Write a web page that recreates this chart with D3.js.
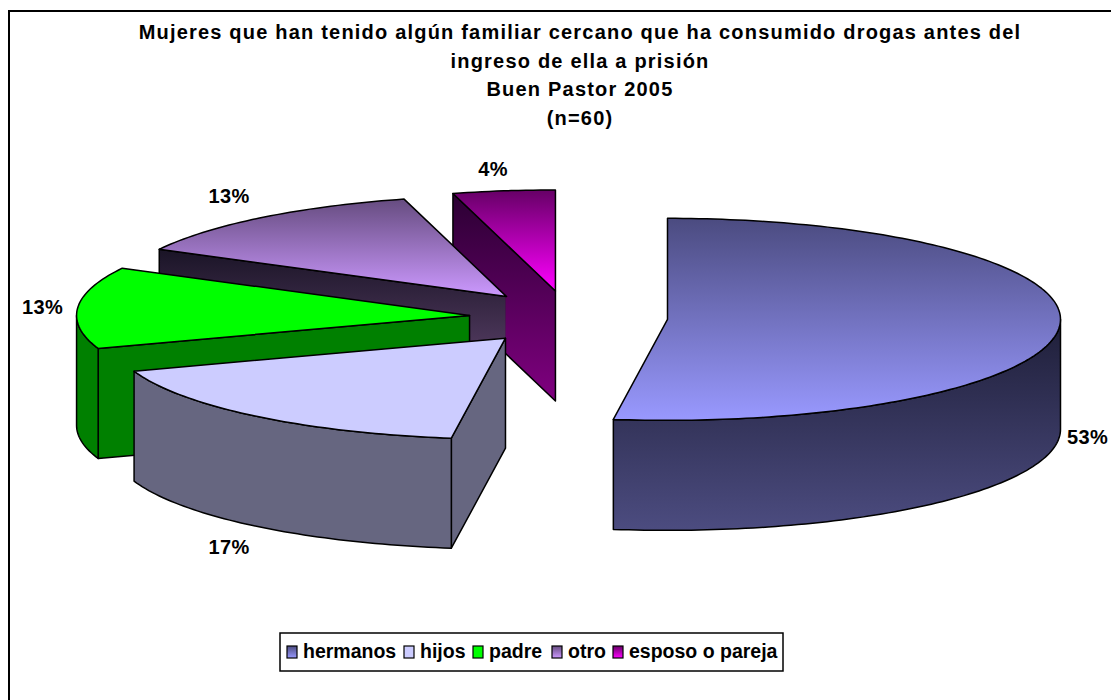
<!DOCTYPE html>
<html lang="es">

<head>
  <meta charset="UTF-8">
  <title>Buen Pastor 2005</title>
  <style>
    html, body { margin: 0; padding: 0; background: #fff; overflow: hidden; }
    svg { display: block; }
    text { font-family: "Liberation Sans", Arial, sans-serif; font-weight: bold; fill: #000; }
  </style>
</head>

<body>
  <div id="chart"></div>
  <script src="https://d3js.org/d3.v7.min.js"></script>
  <script>
    const titleLines = [
      "Mujeres que han tenido algún familiar cercano que ha consumido drogas antes del",
      "ingreso de ella a prisión",
      "Buen Pastor 2005",
      "(n=60)"
    ]
    const categories = ["hermanos", "hijos", "padre", "otro", "esposo o pareja"]
    // shares as drawn in the picture (the printed labels are rounded)
    const shares = [52.2, 17.5, 13.05, 13.05, 4.2]
    const shareLabels = ["53%", "17%", "13%", "13%", "4%"]
    const topDark = ["#4b4b80", "#ccccff", "#00ff00", "#664c80", "#660066"]
    const topLight = ["#9999ff", "#ccccff", "#00ff00", "#cc99ff", "#ff00ff"]
    const sideDark = ["#1e1e38", "#666680", "#008000", "#1a1426", "#2b0033"]
    const sideLight = ["#4c4c80", "#666680", "#008000", "#6d4d7c", "#800080"]
    const labelPos = [[1067, 444], [229, 554], [42.5, 314], [229, 203], [493, 176]]

    const W = 1111, H = 700
    const cx = 568.5, cy = 317.5, rx = 393, ry = 101, depth = 110
    const explodeX = 0.2525, explodeY = 0.265

    const svg = d3.select('#chart').append('svg')
      .attr('width', W)
      .attr('height', H)

    const defs = svg.append('defs')

    // frame runs off the right and bottom of the picture
    svg.append('rect')
      .attr('x', 9).attr('y', 11)
      .attr('width', W + 20).attr('height', H + 20)
      .attr('fill', '#fff')
      .attr('stroke', '#000')
      .attr('stroke-width', 2)

    svg.append('g').selectAll('text')
      .data(titleLines)
      .enter()
      .append('text')
      .attr('x', 580)
      .attr('y', (d, i) => 39 + i * 28.6)
      .attr('text-anchor', 'middle')
      .style('font-size', '20px')
      .style('letter-spacing', '1.2px')
      .text(d => d)

    // unit circle -> screen, the pie is flattened by the two radii
    const xScale = d3.scaleLinear().domain([-1, 1]).range([-rx, rx])
    const yScale = d3.scaleLinear().domain([-1, 1]).range([-ry, ry])

    const arcs = d3.pie().sort(null).startAngle(0).endAngle(2 * Math.PI)(shares)
    const line = d3.line()

    arcs.forEach(a => {
      const mid = (a.startAngle + a.endAngle) / 2
      a.ox = cx + xScale(Math.sin(mid) * explodeX)
      a.oy = cy + yScale(-Math.cos(mid) * explodeY)
    })

    function rim(a, from, to) {
      const n = Math.max(2, Math.ceil((to - from) * 50))
      return d3.range(n + 1).map(i => {
        const t = from + (to - from) * i / n
        return [a.ox + xScale(Math.sin(t)), a.oy + yScale(-Math.cos(t))]
      })
    }

    function gradient(id, c0, c1, y0, y1) {
      const g = defs.append('linearGradient')
        .attr('id', id)
        .attr('gradientUnits', 'userSpaceOnUse')
        .attr('x1', 0).attr('x2', 0)
        .attr('y1', y0).attr('y2', y1)
      g.append('stop').attr('offset', 0).attr('stop-color', c0)
      g.append('stop').attr('offset', 1).attr('stop-color', c1)
      return `url(#${id})`
    }

    // back walls must not stick out past the front slice
    defs.append('clipPath').attr('id', 'behindHijos')
      .append('rect')
      .attr('x', 0).attr('y', 0)
      .attr('width', arcs[1].ox).attr('height', H)

    // back slices first, the big one does not touch the others
    const order = [4, 3, 2, 1, 0]
    const pieG = svg.append('g')
      .attr('stroke', '#000')
      .attr('stroke-width', 1.5)
      .attr('stroke-linejoin', 'round')

    order.forEach(i => {
      const a = arcs[i]
      const edge = rim(a, a.startAngle, a.endAngle)
      const apex = [a.ox, a.oy]
      const ys = edge.map(p => p[1]).concat(a.oy)
      const y0 = d3.min(ys), y1 = d3.max(ys)

      // wall along the starting cut
      if (Math.sin(a.startAngle) < 0) {
        const p = edge[0]
        const wall = pieG.append('path')
          .attr('d', line([apex, p, [p[0], p[1] + depth], [apex[0], apex[1] + depth]]) + 'Z')
          .attr('fill', gradient('cut' + i, sideDark[i], sideLight[i],
            Math.min(apex[1], p[1]), Math.max(apex[1], p[1]) + depth))
        if (i === 3) wall.attr('clip-path', 'url(#behindHijos)')
      }

      // outer wall, only where the rim faces the viewer
      const from = Math.max(a.startAngle, Math.PI / 2)
      const to = Math.min(a.endAngle, 3 * Math.PI / 2)
      if (to > from) {
        const r = rim(a, from, to)
        const low = r.map(p => [p[0], p[1] + depth]).reverse()
        const all = r.concat(low).map(p => p[1])
        pieG.append('path')
          .attr('d', line(r.concat(low)) + 'Z')
          .attr('fill', gradient('side' + i, sideDark[i], sideLight[i], d3.min(all), d3.max(all)))
      }

      pieG.append('path')
        .attr('d', line([apex].concat(edge)) + 'Z')
        .attr('fill', gradient('top' + i, topDark[i], topLight[i], y0, y1))
    })

    svg.append('g').selectAll('text')
      .data(shareLabels)
      .enter()
      .append('text')
      .attr('x', (d, i) => labelPos[i][0])
      .attr('y', (d, i) => labelPos[i][1])
      .attr('text-anchor', (d, i) => i === 0 ? 'start' : 'middle')
      .style('font-size', '20px')
      .style('letter-spacing', '0.4px')
      .text(d => d)

    // legend
    const legend = svg.append('g')
    legend.append('rect')
      .attr('x', 280).attr('y', 633)
      .attr('width', 503).attr('height', 38)
      .attr('fill', '#fff')
      .attr('stroke', '#000')
      .attr('stroke-width', 1.5)

    const legendX = [287, 404, 473, 552, 613]
    categories.forEach((c, i) => {
      legend.append('rect')
        .attr('x', legendX[i]).attr('y', 646)
        .attr('width', 10).attr('height', 12)
        .attr('fill', gradient('leg' + i, topDark[i], topLight[i], 646, 658))
        .attr('stroke', '#000')
        .attr('stroke-width', 1.2)
      legend.append('text')
        .attr('x', legendX[i] + 16)
        .attr('y', 658)
        .style('font-size', '19.5px')
        .text(c)
    })
  </script>
</body>

</html>
